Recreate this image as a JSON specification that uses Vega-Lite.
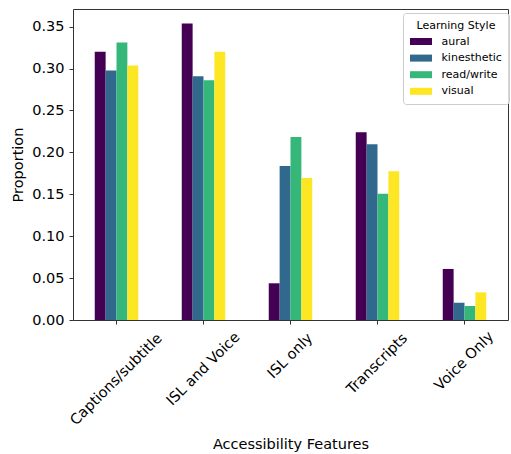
{
  "$schema": "https://vega.github.io/schema/vega-lite/v6.json",
  "width": 435,
  "height": 311,
  "autosize": {"type": "none"},
  "padding": {"left": 73, "top": 9, "right": 3, "bottom": 134},
  "background": "white",
  "config": {
    "font": "DejaVu Sans",
    "view": {"stroke": "#333", "strokeWidth": 1},
    "axis": {
      "domain": false,
      "grid": false,
      "tickColor": "#333",
      "tickSize": 4,
      "labelColor": "#000",
      "titleColor": "#000",
      "labelFontSize": 14.5,
      "titleFontSize": 14.5,
      "titleFontWeight": "normal"
    }
  },
  "layer": [
    {
      "data": {
        "values": [
          {"feature": "Captions/subtitle", "style": "aural", "proportion": 0.320},
          {"feature": "Captions/subtitle", "style": "kinesthetic", "proportion": 0.2975},
          {"feature": "Captions/subtitle", "style": "read/write", "proportion": 0.331},
          {"feature": "Captions/subtitle", "style": "visual", "proportion": 0.3035},
          {"feature": "ISL and Voice", "style": "aural", "proportion": 0.3536},
          {"feature": "ISL and Voice", "style": "kinesthetic", "proportion": 0.2908},
          {"feature": "ISL and Voice", "style": "read/write", "proportion": 0.286},
          {"feature": "ISL and Voice", "style": "visual", "proportion": 0.320},
          {"feature": "ISL only", "style": "aural", "proportion": 0.0438},
          {"feature": "ISL only", "style": "kinesthetic", "proportion": 0.1838},
          {"feature": "ISL only", "style": "read/write", "proportion": 0.2184},
          {"feature": "ISL only", "style": "visual", "proportion": 0.1695},
          {"feature": "Transcripts", "style": "aural", "proportion": 0.224},
          {"feature": "Transcripts", "style": "kinesthetic", "proportion": 0.2097},
          {"feature": "Transcripts", "style": "read/write", "proportion": 0.1507},
          {"feature": "Transcripts", "style": "visual", "proportion": 0.1774},
          {"feature": "Voice Only", "style": "aural", "proportion": 0.0609},
          {"feature": "Voice Only", "style": "kinesthetic", "proportion": 0.0206},
          {"feature": "Voice Only", "style": "read/write", "proportion": 0.0167},
          {"feature": "Voice Only", "style": "visual", "proportion": 0.033}
        ]
      },
      "mark": {"type": "bar"},
      "encoding": {
        "x": {
          "field": "feature",
          "type": "nominal",
          "sort": null,
          "scale": {"paddingInner": 0.5, "paddingOuter": 0.25},
          "axis": {
            "title": "Accessibility Features",
            "labels": false,
            "titleY": 128,
            "titleBaseline": "alphabetic"
          }
        },
        "xOffset": {
          "field": "style",
          "type": "nominal",
          "sort": null,
          "scale": {"paddingInner": 0, "paddingOuter": 0}
        },
        "y": {
          "field": "proportion",
          "type": "quantitative",
          "scale": {"domain": [0, 0.371], "nice": false, "zero": true},
          "axis": {
            "title": "Proportion",
            "values": [0, 0.05, 0.1, 0.15, 0.2, 0.25, 0.3, 0.35],
            "format": ".2f",
            "labelPadding": 5,
            "titleX": -50.7,
            "titleBaseline": "alphabetic"
          }
        },
        "color": {
          "field": "style",
          "type": "nominal",
          "scale": {
            "domain": ["aural", "kinesthetic", "read/write", "visual"],
            "range": ["#440154", "#31688e", "#35b779", "#fde725"]
          },
          "legend": {
            "title": "Learning Style",
            "orient": "none",
            "legendX": 330,
            "legendY": 4,
            "padding": 7,
            "fillColor": "rgba(255,255,255,0.8)",
            "strokeColor": "#cccccc",
            "cornerRadius": 3,
            "titleFontSize": 11,
            "titleFontWeight": "normal",
            "titleColor": "#000",
            "titleAnchor": "middle",
            "titleAlign": "center",
            "titlePadding": 5,
            "labelFontSize": 11,
            "labelColor": "#000",
            "symbolType": "M-3.14,-1H3.14V1H-3.14Z",
            "symbolSize": 49,
            "symbolStrokeWidth": 0,
            "symbolOpacity": 1,
            "symbolOffset": 5.5,
            "labelOffset": 15,
            "rowPadding": 4.6
          }
        }
      }
    },
    {
      "data": {
        "values": [
          {"feature": "Captions/subtitle"},
          {"feature": "ISL and Voice"},
          {"feature": "ISL only"},
          {"feature": "Transcripts"},
          {"feature": "Voice Only"}
        ]
      },
      "mark": {
        "type": "text",
        "angle": -45,
        "align": "center",
        "baseline": "middle",
        "fontSize": 14.5,
        "font": "DejaVu Sans",
        "color": "#000",
        "dx": {"expr": "-(10.78 + 1.853 * length(datum.feature))"},
        "dy": {"expr": "10.78 + 1.853 * length(datum.feature)"}
      },
      "encoding": {
        "x": {"field": "feature", "type": "nominal", "sort": null},
        "y": {"datum": 0, "type": "quantitative"},
        "text": {"field": "feature"}
      }
    }
  ]
}
